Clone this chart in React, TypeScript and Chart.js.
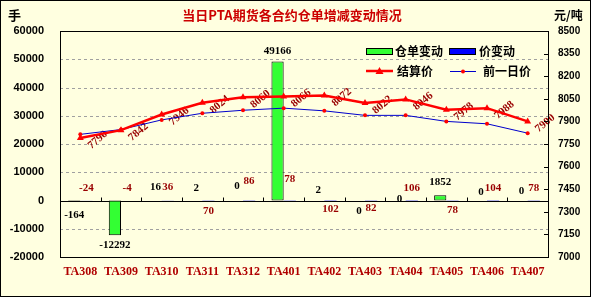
import React, { useEffect, useRef } from 'react';
import { Chart, registerables } from 'chart.js';

Chart.register(...registerables);

const categories = ['TA308', 'TA309', 'TA310', 'TA311', 'TA312', 'TA401', 'TA402', 'TA403', 'TA404', 'TA405', 'TA406', 'TA407'];
const warrantChange = [-164, -12292, 16, 2, 0, 49166, 2, 0, 0, 1852, 0, 0];
const priceChange = [-24, -4, 36, 70, 86, 78, 102, 82, 106, 78, 104, 78];
const settlePrice = [7790, 7842, 7946, 8024, 8060, 8066, 8072, 8022, 8046, 7978, 7988, 7900];
const prevPrice = [7814, 7846, 7910, 7954, 7974, 7988, 7970, 7940, 7940, 7900, 7884, 7822];
const leftMin = -20000;
const leftMax = 60000;
const leftStep = 10000;
const rightMin = 7000;
const rightMax = 8500;
const rightStep = 150;

// label placement (pixel offsets, style only)
const warrantLabelDy = [14, 10, -13, -12, -14, -10, -10, 11, -1, -13, -8, -9];
const changeLabelDy = [-12, -12, -13, 11, -19, -21, 9, 8, -12, 10, -12, -12];

const TITLE = '当日PTA期货各合约仓单增减变动情况';
const BG = '#FFFFE0';
const DARKRED = '#990000';

const W = 591;
const H = 297;

export default function App() {
  const ref = useRef<HTMLCanvasElement | null>(null);

  useEffect(() => {
    const canvas = ref.current!;
    const decor = {
      id: 'decor',
      beforeDraw(chart: any) {
        const c = chart.ctx;
        c.save();
        c.fillStyle = BG;
        c.fillRect(0, 0, W, H);
        c.restore();
      },
      beforeDatasetsDraw(chart: any) {
        const c = chart.ctx;
        const a = chart.chartArea;
        const yl = chart.scales.y;
        const x = chart.scales.x;
        c.save();
        c.strokeStyle = '#a0a0a0';
        c.lineWidth = 1;
        c.setLineDash([3, 3]);
        for (let v = leftMin + leftStep; v < leftMax; v += leftStep) {
          if (v === 0) continue;
          const py = Math.round(yl.getPixelForValue(v)) + 0.5;
          c.beginPath();
          c.moveTo(a.left, py);
          c.lineTo(a.right, py);
          c.stroke();
        }
        c.setLineDash([]);
        const zy = Math.round(yl.getPixelForValue(0)) + 0.5;
        c.strokeStyle = '#000';
        c.beginPath();
        c.moveTo(a.left, zy);
        c.lineTo(a.right, zy);
        c.stroke();
        const half = (x.getPixelForValue(1) - x.getPixelForValue(0)) / 2;
        for (let i = 0; i < categories.length - 1; i++) {
          const px = Math.round(x.getPixelForValue(i) + half) + 0.5;
          c.beginPath();
          c.moveTo(px, zy - 4);
          c.lineTo(px, zy);
          c.stroke();
        }
        const m = chart.getDatasetMeta(2);
        c.fillStyle = DARKRED;
        c.font = 'bold 11px "Liberation Serif"';
        c.textAlign = 'left';
        c.textBaseline = 'middle';
        m.data.forEach((p: any, i: number) => {
          c.save();
          c.translate(p.x + 9, p.y + 9);
          c.rotate(-40 * Math.PI / 180);
          c.fillText(String(settlePrice[i]), 0, 0);
          c.restore();
        });
        c.restore();
      },
      afterDatasetsDraw(chart: any) {
        const c = chart.ctx;
        const yl = chart.scales.y;
        const zy = yl.getPixelForValue(0);
        c.save();
        c.textAlign = 'center';
        c.textBaseline = 'middle';
        const mb = chart.getDatasetMeta(0);
        c.fillStyle = '#000';
        c.font = 'bold 11px "Liberation Serif"';
        mb.data.forEach((b: any, i: number) => {
          const v = warrantChange[i];
          c.fillText((v < 0 ? '-' : '') + Math.abs(v), b.x, yl.getPixelForValue(v) + warrantLabelDy[i]);
        });
        const mc = chart.getDatasetMeta(1);
        c.fillStyle = DARKRED;
        mc.data.forEach((b: any, i: number) => {
          const v = priceChange[i];
          c.fillText((v < 0 ? '-' : '') + Math.abs(v), b.x, zy + changeLabelDy[i]);
        });
        c.restore();
      },
      afterDraw(chart: any) {
        const c = chart.ctx;
        const a = chart.chartArea;
        const yr = chart.scales.y1;
        c.save();
        c.strokeStyle = '#000';
        c.lineWidth = 1;
        c.strokeRect(Math.round(a.left) + 0.5, Math.round(a.top) + 0.5, Math.round(a.right - a.left), Math.round(a.bottom - a.top));
        for (let v = rightMin; v <= rightMax; v += rightStep) {
          const py = Math.round(yr.getPixelForValue(v)) + 0.5;
          c.beginPath();
          c.moveTo(a.right - 4, py);
          c.lineTo(a.right, py);
          c.stroke();
        }
        c.strokeRect(0.5, 0.5, W - 1, H - 1);
        c.fillStyle = '#CC0000';
        c.font = 'bold 13px "Noto Sans CJK SC"';
        c.textAlign = 'center';
        c.textBaseline = 'middle';
        c.fillText(TITLE, 292, 15);
        c.fillStyle = '#000';
        c.font = 'bold 13px "Noto Sans CJK SC"';
        c.textAlign = 'left';
        c.fillText('手', 8, 15);
        c.font = 'bold 12px "Noto Sans CJK SC"';
        c.fillText('元/吨', 554, 15);
        c.font = 'bold 12px "Noto Sans CJK SC"';
        c.fillStyle = '#33FF33';
        c.fillRect(366, 48, 26, 6);
        c.strokeRect(366.5, 48.5, 26, 6);
        c.fillStyle = '#0000FF';
        c.fillRect(449, 48, 26, 6);
        c.strokeRect(449.5, 48.5, 26, 6);
        c.fillStyle = '#000';
        c.fillText('仓单变动', 395, 51);
        c.fillText('价变动', 479, 51);
        c.strokeStyle = '#FF0000';
        c.lineWidth = 2.5;
        c.beginPath();
        c.moveTo(366, 71);
        c.lineTo(393, 71);
        c.stroke();
        c.fillStyle = '#FF0000';
        c.beginPath();
        c.moveTo(379.5, 67);
        c.lineTo(383.5, 74);
        c.lineTo(375.5, 74);
        c.closePath();
        c.fill();
        c.strokeStyle = '#0000CC';
        c.lineWidth = 1;
        c.beginPath();
        c.moveTo(450, 71.5);
        c.lineTo(476, 71.5);
        c.stroke();
        c.beginPath();
        c.arc(463, 71.5, 2, 0, Math.PI * 2);
        c.fill();
        c.fillStyle = '#000';
        c.fillText('结算价', 397, 71);
        c.fillText('前一日价', 483, 71);
        c.restore();
      },
    };

    const chart = new Chart(canvas, {
      type: 'bar',
      data: {
        labels: categories,
        datasets: [
          {
            type: 'bar',
            label: '仓单变动',
            data: warrantChange,
            backgroundColor: '#33FF33',
            borderColor: '#000',
            borderWidth: 1,
            borderSkipped: false,
            yAxisID: 'y',
            order: 2,
            categoryPercentage: 0.6,
            barPercentage: 1,
          },
          {
            type: 'bar',
            label: '价变动',
            data: priceChange,
            backgroundColor: '#0000FF',
            borderWidth: 0,
            yAxisID: 'y',
            order: 3,
            categoryPercentage: 0.6,
            barPercentage: 1,
          },
          {
            type: 'line',
            label: '结算价',
            data: settlePrice,
            borderColor: '#FF0000',
            backgroundColor: '#FF0000',
            borderWidth: 2.5,
            pointStyle: 'triangle',
            pointRadius: 4,
            pointBorderWidth: 0,
            yAxisID: 'y1',
            order: 0,
          },
          {
            type: 'line',
            label: '前一日价',
            data: prevPrice,
            borderColor: '#0000CC',
            backgroundColor: '#FF0000',
            borderWidth: 1,
            pointRadius: 2,
            pointBorderWidth: 0,
            yAxisID: 'y1',
            order: 1,
          },
        ] as any,
      },
      options: {
        responsive: false,
        animation: false,
        devicePixelRatio: 1,
        layout: { padding: { top: 31, left: 0, right: 0, bottom: 0 } },
        plugins: { legend: { display: false }, tooltip: { enabled: false }, title: { display: false } },
        scales: {
          x: {
            grid: { display: false, drawTicks: false },
            border: { display: false },
            ticks: { color: '#B00000', font: { family: 'Liberation Serif', weight: 'bold', size: 12 }, padding: 8, maxRotation: 0, autoSkip: false },
            afterFit(s: any) { s.height = 40; },
          },
          y: {
            position: 'left',
            min: leftMin,
            max: leftMax,
            grid: { display: false, drawTicks: false },
            border: { display: false },
            ticks: { stepSize: leftStep, color: '#000', font: { family: 'Liberation Sans', weight: 'bold', size: 11 }, padding: 16, callback: (v: any) => String(v) },
            afterFit(s: any) { s.width = 60; },
          },
          y1: {
            position: 'right',
            min: rightMin,
            max: rightMax,
            grid: { display: false, drawTicks: false },
            border: { display: false },
            ticks: { stepSize: rightStep, color: '#000', font: { family: 'Liberation Sans', weight: 'bold', size: 10 }, padding: 10, callback: (v: any) => String(v) },
            afterFit(s: any) { s.width = 43; },
          },
        },
      } as any,
      plugins: [decor],
    });
    return () => chart.destroy();
  }, []);

  return (
    <div style={{ position: 'absolute', left: 0, top: 0, width: W, height: H }}>
      <canvas ref={ref} width={W} height={H} style={{ width: W, height: H, display: 'block' }} />
    </div>
  );
}
